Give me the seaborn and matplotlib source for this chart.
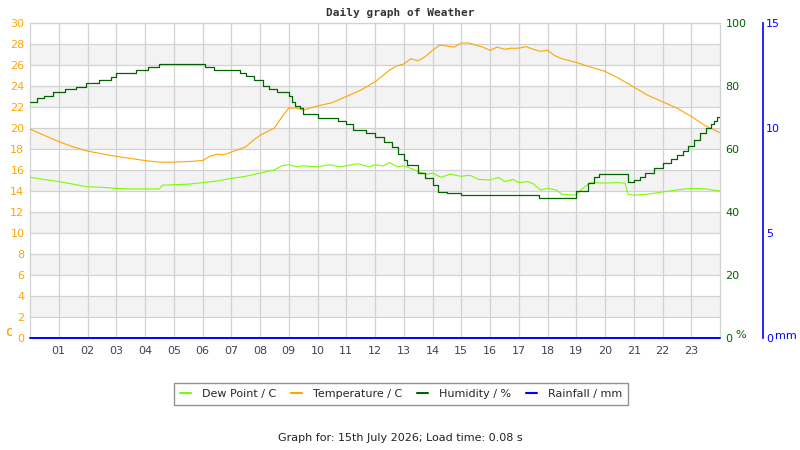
import numpy as np
import pandas as pd
import matplotlib
matplotlib.use("Agg")
import matplotlib.pyplot as plt
import seaborn as sns
from matplotlib.lines import Line2D

# ---- data (hours of day) ----
temp_t = [0, 0.5, 1, 1.5, 2, 2.5, 3, 3.5, 4, 4.5, 5, 5.5, 6, 6.25, 6.5, 6.75, 7, 7.5, 7.75, 8,
          8.5, 8.75, 9, 9.25, 9.5, 9.75, 10, 10.5, 11, 11.5, 12, 12.5, 12.75, 13, 13.25, 13.5,
          13.75, 14, 14.25, 14.5, 14.75, 15, 15.25, 15.5, 15.75, 16, 16.25, 16.5, 16.75, 17,
          17.25, 17.5, 17.75, 18, 18.25, 18.5, 19, 19.5, 20, 20.5, 21, 21.5, 22, 22.5, 23,
          23.5, 24]
temp_v = [19.9, 19.3, 18.7, 18.2, 17.8, 17.55, 17.3, 17.1, 16.9, 16.75, 16.75, 16.8, 16.9,
          17.3, 17.5, 17.45, 17.7, 18.2, 18.8, 19.3, 20.0, 21.0, 21.9, 21.9, 21.7, 21.9, 22.1,
          22.4, 23.0, 23.6, 24.4, 25.5, 25.9, 26.1, 26.6, 26.4, 26.8, 27.4, 27.9, 27.8, 27.7,
          28.1, 28.1, 27.9, 27.7, 27.4, 27.7, 27.5, 27.6, 27.6, 27.75, 27.5, 27.3, 27.4, 26.9,
          26.6, 26.25, 25.8, 25.4, 24.7, 23.9, 23.1, 22.5, 21.9, 21.1, 20.2, 19.55]

dew_t = [0, 0.5, 1, 1.5, 2, 2.5, 3, 3.5, 4, 4.5, 4.6, 5, 5.5, 6, 6.5, 7, 7.5, 8, 8.5, 8.75,
         9, 9.3, 9.5, 10, 10.4, 10.8, 11, 11.4, 11.8, 12, 12.3, 12.5, 12.8, 13, 13.3, 13.5,
         13.8, 14, 14.3, 14.6, 15, 15.3, 15.6, 16, 16.3, 16.5, 16.8, 17, 17.3, 17.5, 17.75,
         18, 18.3, 18.5, 19, 19.2, 19.5, 20, 20.4, 20.7, 20.8, 21, 21.5, 22, 22.5, 23, 23.5, 24]
dew_v = [15.3, 15.1, 14.9, 14.65, 14.4, 14.35, 14.25, 14.2, 14.2, 14.2, 14.55, 14.6, 14.65,
         14.8, 14.95, 15.2, 15.4, 15.7, 16.0, 16.4, 16.5, 16.3, 16.4, 16.3, 16.5, 16.3, 16.4,
         16.6, 16.3, 16.5, 16.4, 16.7, 16.3, 16.4, 16.1, 15.85, 15.6, 15.7, 15.3, 15.6, 15.4,
         15.5, 15.1, 15.05, 15.3, 14.9, 15.1, 14.8, 14.9, 14.7, 14.1, 14.25, 14.1, 13.7, 13.6,
         14.2, 14.8, 14.75, 14.8, 14.75, 13.7, 13.6, 13.7, 13.9, 14.1, 14.25, 14.2, 14.0]

hum_t = [0, 0.25, 0.5, 0.8, 1.2, 1.6, 1.95, 2.4, 2.8, 3.0, 3.7, 4.1, 4.5, 6.1, 6.4, 7.3, 7.5,
         7.8, 8.1, 8.3, 8.6, 9.0, 9.1, 9.2, 9.4, 9.5, 10.0, 10.7, 11.0, 11.25, 11.7, 12.0,
         12.3, 12.6, 12.8, 13.0, 13.1, 13.5, 13.75, 14.0, 14.2, 14.5, 15.0, 17.7, 18.8, 19.0,
         19.4, 19.6, 19.8, 20.8, 21.0, 21.2, 21.4, 21.7, 22.0, 22.3, 22.5, 22.7, 22.9, 23.1,
         23.3, 23.5, 23.7, 23.8, 23.9, 24]
hum_v = [74.8, 76.1, 76.9, 78.0, 79.0, 79.8, 80.8, 81.8, 83.0, 84.0, 85.0, 85.9, 86.9, 85.9,
         85.0, 84.2, 83.2, 81.9, 80.1, 79.0, 78.1, 76.8, 75.0, 73.7, 72.9, 71.1, 70.0, 68.9,
         67.8, 66.0, 65.0, 63.9, 62.1, 60.7, 58.4, 56.5, 54.9, 52.5, 50.7, 48.6, 46.4, 45.9,
         45.4, 44.4, 44.4, 46.8, 49.3, 51.2, 52.1, 49.6, 50.2, 51.2, 52.3, 53.9, 55.5, 56.7,
         58.1, 59.5, 61.1, 62.9, 65.0, 66.6, 67.9, 69.0, 70.1, 70.1]

rain_t = [0, 6, 12, 18, 24]
rain_v = [0, 0, 0, 0, 0]

hour_labels = ["%02d" % h for h in range(1, 24)]
temp_ticks = list(range(0, 31, 2))
hum_ticks = [0, 20, 40, 60, 80, 100]
rain_ticks = [0, 5, 10, 15]

C_DEW = "#7cfc00"
C_TEMP = "#ffa500"
C_HUM = "#006400"
C_RAIN = "#0000ff"

sns.set_style("white")
plt.rcParams["font.family"] = ["DejaVu Sans"]

fig = plt.figure(figsize=(8, 4.5), dpi=100)
ax = fig.add_axes([30 / 800, 112 / 450, 690 / 800, 315 / 450])

# background bands and grid
for y0 in range(2, 28, 4):
    ax.axhspan(y0, y0 + 2, color="#f3f3f3", zorder=0, lw=0)
ax.set_xlim(0, 24)
ax.set_ylim(0, 30)
ax.set_xticks(range(1, 24))
ax.set_xticklabels(hour_labels)
ax.set_yticks(temp_ticks)
ax.grid(True, color="#d2d2d2", lw=0.9, zorder=1)
ax.set_axisbelow(True)
for s in ax.spines.values():
    s.set_color("#d2d2d2")
    s.set_linewidth(0.9)
ax.tick_params(axis="x", length=0, pad=6, labelsize=8, labelcolor="#444444")
ax.tick_params(axis="y", length=0, pad=4, labelsize=8, labelcolor=C_TEMP)

df_temp = pd.DataFrame({"h": temp_t, "v": temp_v})
df_dew = pd.DataFrame({"h": dew_t, "v": dew_v})
df_hum = pd.DataFrame({"h": hum_t, "v": hum_v})
df_rain = pd.DataFrame({"h": rain_t, "v": rain_v})

sns.lineplot(data=df_dew, x="h", y="v", ax=ax, color=C_DEW, lw=0.8, zorder=3)
sns.lineplot(data=df_temp, x="h", y="v", ax=ax, color=C_TEMP, lw=0.8, zorder=3)
ax.set_xlabel("")
ax.set_ylabel("")

ax2 = ax.twinx()
ax2.set_ylim(0, 100)
ax2.set_yticks(hum_ticks)
sns.lineplot(data=df_hum, x="h", y="v", ax=ax2, color=C_HUM, lw=0.9,
             drawstyle="steps-post", zorder=3)
ax2.set_xlabel("")
ax2.set_ylabel("")
ax2.tick_params(axis="y", length=0, pad=4, labelsize=8, labelcolor=C_HUM)
for s in ax2.spines.values():
    s.set_visible(False)

ax3 = ax.twinx()
ax3.set_ylim(0, 15)
ax3.set_yticks(rain_ticks)
sns.lineplot(data=df_rain, x="h", y="v", ax=ax3, color=C_RAIN, lw=1.4, zorder=4,
             clip_on=False)
ax3.set_xlabel("")
ax3.set_ylabel("")
for k, s in ax3.spines.items():
    s.set_visible(k == "right")
ax3.spines["right"].set_position(("axes", (763 - 30) / 690))
ax3.spines["right"].set_color(C_RAIN)
ax3.spines["right"].set_linewidth(1.2)
ax3.tick_params(axis="y", length=0, pad=2, labelsize=8, labelcolor=C_RAIN)
ax3.set_xlim(0, 24)

# unit labels
fig.text(5 / 800, 1 - 333 / 450, "C", color=C_TEMP, fontsize=8, fontweight="bold",
         family="DejaVu Sans Mono", va="center", ha="left")
fig.text(735 / 800, 1 - 335 / 450, "%", color=C_HUM, fontsize=8, va="center", ha="left")
fig.text(775 / 800, 1 - 336 / 450, "mm", color=C_RAIN, fontsize=8, va="center", ha="left")

fig.text(0.5, 1 - 13 / 450, "Daily graph of Weather", ha="center", va="center",
         fontsize=8, fontweight="bold", family="DejaVu Sans Mono", color="#333333")

handles = [Line2D([], [], color=c, lw=1.5) for c in (C_DEW, C_TEMP, C_HUM, C_RAIN)]
labels = ["Dew Point / C", "Temperature / C", "Humidity / %", "Rainfall / mm"]
leg = fig.legend(handles, labels, loc="center", bbox_to_anchor=(401 / 800, 1 - 394 / 450),
                 ncol=4, fontsize=8, frameon=True, fancybox=False, handlelength=1.0,
                 handletextpad=1.0, columnspacing=1.3, borderpad=0.5)
leg.get_frame().set_edgecolor("#777777")
leg.get_frame().set_linewidth(1.0)

fig.text(0.5, 1 - 438 / 450, "Graph for: 15th July 2026; Load time: 0.08 s", ha="center",
         va="center", fontsize=8, color="#222222")

fig.savefig("out.png", dpi=100)
